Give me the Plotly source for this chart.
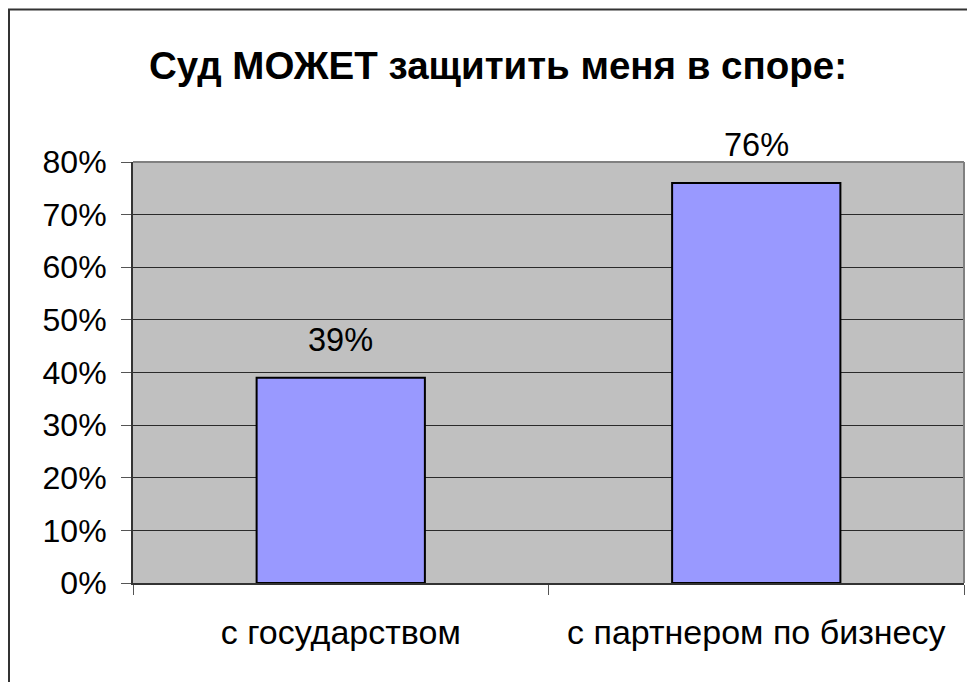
import plotly.graph_objects as go

categories = ["с государством", "с партнером по бизнесу"]
values = [0.39, 0.76]
title_text = "Суд МОЖЕТ защитить меня в споре:"

W, H = 975, 682
L, R, T, B = 125, 19, 154, 107
pw = W - L - R
ph = H - T - B

def px_x(px):
    return (px - L) / pw

def px_y(py):
    return (H - B - py) / ph

font_family = "Liberation Sans, Arial, sans-serif"

fig = go.Figure()
fig.add_trace(go.Bar(
    x=categories, y=values,
    marker=dict(color="#9999FF", line=dict(color="#000000", width=2)),
    width=0.405,
    hoverinfo="skip",
))

for c, v in zip(categories, values):
    fig.add_annotation(x=c, y=v, text=f"{round(v*100)}%", showarrow=False,
                       yanchor="bottom", yshift=18,
                       font=dict(family=font_family, size=32.5, color="#000"))

fig.update_layout(
    width=W, height=H,
    margin=dict(l=L, r=R, t=T, b=B, pad=0),
    paper_bgcolor="#FFFFFF",
    plot_bgcolor="#C0C0C0",
    showlegend=False,
    title=dict(text=f"<b>{title_text}</b>", x=490 / W, xanchor="center",
               y=1 - 58 / H, yanchor="middle", xref="container", yref="container",
               font=dict(family=font_family, size=38.5, color="#000")),
    font=dict(family=font_family, size=30, color="#000"),
    bargap=0.6,
)

fig.update_yaxes(range=[0, 0.8], dtick=0.1, tickformat=".0%",
                 showgrid=True, gridcolor="#2a2a2a", gridwidth=1,
                 showline=True, linecolor="#333333", linewidth=2,
                 ticks="outside", ticklen=10, tickcolor="#555555", tickwidth=1,
                 ticklabelstandoff=8,
                 zeroline=False,
                 tickfont=dict(family=font_family, size=32, color="#000"))
fig.update_xaxes(showline=True, linecolor="#333333", linewidth=2,
                 ticks="outside", ticklen=10, tickcolor="#555555", tickwidth=1,
                 tickson="boundaries", ticklabelstandoff=18,
                 tickfont=dict(family=font_family, size=34, color="#000"))

# plot-area border (top and right) in gray
fig.add_shape(type="line", xref="paper", yref="paper", x0=0, x1=1, y0=1, y1=1,
              line=dict(color="#808080", width=2), layer="above")
fig.add_shape(type="line", xref="paper", yref="paper", x0=1, x1=1, y0=0, y1=1,
              line=dict(color="#808080", width=2), layer="above")

# outer chart frame
fig.add_shape(type="rect", xref="paper", yref="paper",
              x0=px_x(1), x1=px_x(W - 1), y0=px_y(H - 1), y1=px_y(1.5),
              line=dict(color="#333333", width=2), fillcolor="rgba(0,0,0,0)",
              layer="below")

fig.write_html("out.html")
